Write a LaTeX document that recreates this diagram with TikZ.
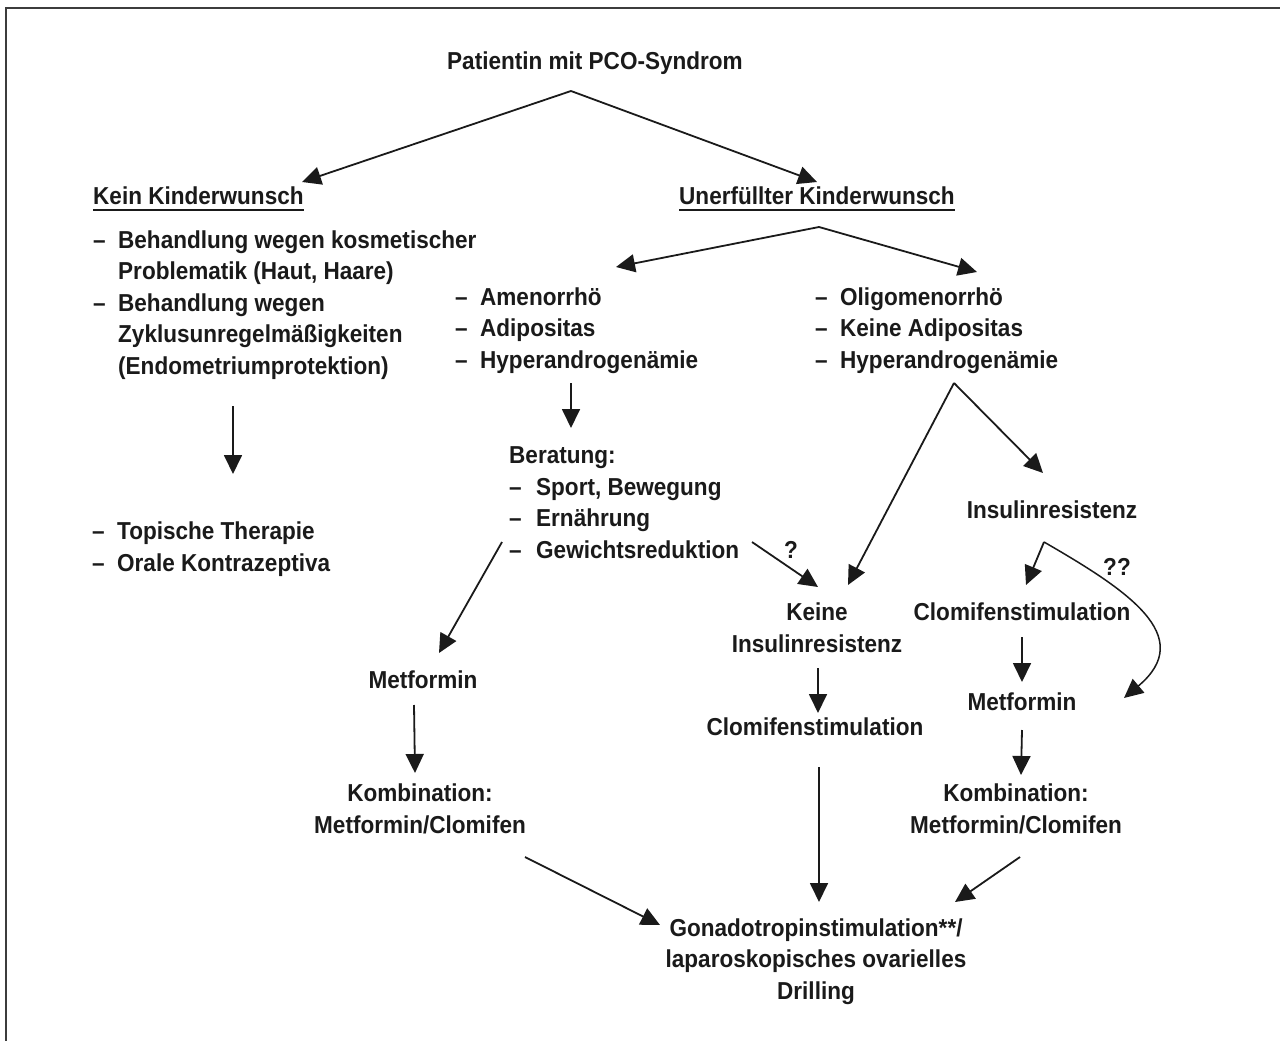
\documentclass[tikz,border=0pt]{standalone}
\usepackage{fontspec}
\setmainfont{Liberation Sans}[FakeStretch=0.92]
\usepackage{tikz}
\usetikzlibrary{arrows.meta}
\definecolor{dunkel}{HTML}{1A1A1A}
\newcommand{\strich}{\makebox[25pt][l]{–}}
\newcommand{\einzug}{\hspace*{25pt}}
\newcommand{\unterstr}[1]{\setbox0=\hbox{#1}\rlap{\vrule height -4.5pt depth 6.5pt width \wd0}\box0}
\tikzset{
  schrift/.style = {font=\fontsize{24.5}{31.5}\selectfont\bfseries, text=dunkel, inner sep=0pt},
  liste/.style   = {schrift, align=left, anchor=base west},
  mitte/.style   = {schrift, align=center, anchor=base},
  pfeil/.style   = {-{Triangle[length=19pt, width=18pt]}, line width=1.8pt, draw=dunkel},
  bogen/.style   = {pfeil, line width=1.5pt},
  rahmen/.style  = {line width=1.5pt, draw=dunkel!85}
}

\begin{document}
\begin{tikzpicture}[x=1pt, y=1pt]
        \useasboundingbox (0,0) rectangle (1280,-1041);
        \draw[rahmen] (6,-1041) -- (6,-8) -- (1280,-8);

        \node[liste] (patientin) at (447,-70) {Patientin mit PCO-Syndrom};
        \node[liste] (keinwunsch) at (93,-204) {\unterstr{Kein Kinderwunsch}};
        \node[liste] (unerfuellt) at (679,-204) {\unterstr{Unerfüllter Kinderwunsch}};

        \node[liste] (behandlung) at (93,-374)
            {\strich Behandlung wegen kosmetischer\\ \einzug Problematik (Haut, Haare)\\
             \strich Behandlung wegen\\ \einzug Zyklusunregelmäßigkeiten\\
             \einzug (Endometriumprotektion)};
        \node[liste] (therapie) at (92,-571)
            {\strich Topische Therapie\\ \strich Orale Kontrazeptiva};

        \node[liste] (amenorrhoe) at (455,-368)
            {\strich Amenorrhö\\ \strich Adipositas\\ \strich Hyperandrogenämie};
        \node[liste] (oligo) at (815,-368)
            {\strich Oligomenorrhö\\ \strich Keine Adipositas\\ \strich Hyperandrogenämie};

        \node[liste] (beratung) at (509,-558)
            {Beratung:\\ \makebox[27pt][l]{–}Sport, Bewegung\\ \makebox[27pt][l]{–}Ernährung\\
             \makebox[27pt][l]{–}Gewichtsreduktion};

        \node[mitte] (metformin1) at (423,-688) {Metformin};
        \node[mitte] (kombi1) at (420,-833) {Kombination:\\ Metformin/Clomifen};

        \node[mitte] (keineir) at (817,-652) {Keine\\ Insulinresistenz};
        \node[mitte] (clomifen1) at (815,-735) {Clomifenstimulation};

        \node[mitte] (insulin) at (1052,-518) {Insulinresistenz};
        \node[mitte] (clomifen2) at (1022,-620) {Clomifenstimulation};
        \node[mitte] (metformin2) at (1022,-710) {Metformin};
        \node[mitte] (kombi2) at (1016,-833) {Kombination:\\ Metformin/Clomifen};

        \node[mitte] (gonado) at (816,-999)
            {Gonadotropinstimulation**/\\ laparoskopisches ovarielles\\ Drilling};

        \node[mitte] (frage1) at (791,-558) {?};
        \node[mitte] (frage2) at (1117,-575) {??};

        \coordinate (gabel1) at ([shift={(124,-21)}]patientin.base west);
        \coordinate (gabel2) at ([shift={(140,-23)}]unerfuellt.base west);
        \coordinate (gabel3) at ([shift={(139,-15)}]oligo.base west);
        \coordinate (gabel4) at ([shift={(-8,-24)}]insulin.base);

        \draw[pfeil] (gabel1) -- ([shift={(209,22)}]keinwunsch.base west);
        \draw[pfeil] (gabel1) -- ([shift={(138,22)}]unerfuellt.base west);
        \draw[pfeil] (gabel2) -- ([shift={(161,101)}]amenorrhoe.base west);
        \draw[pfeil] (gabel2) -- ([shift={(162,96)}]oligo.base west);

        \draw[pfeil] ([shift={(140,-32)}]behandlung.base west) -- ([shift={(141,97)}]therapie.base west);
        \draw[pfeil] ([shift={(116,-15)}]amenorrhoe.base west) -- ([shift={(62,130)}]beratung.base west);

        \draw[pfeil] (gabel3) -- ([shift={(31,67)}]keineir.base);
        \draw[pfeil] (gabel3) -- ([shift={(-9,45)}]insulin.base);

        \draw[pfeil] ([shift={(-7,16)}]beratung.base west) -- ([shift={(16,35)}]metformin1.base);
        \draw[pfeil] ([shift={(243,16)}]beratung.base west) -- ([shift={(1,65)}]keineir.base);

        \draw[pfeil] ([shift={(1,-16)}]keineir.base) -- ([shift={(3,22)}]clomifen1.base);
        \draw[pfeil] (gabel4) -- ([shift={(4,35)}]clomifen2.base);
        \draw[bogen] (gabel4) to[out=-30, in=40, looseness=1.4] ([shift={(102,12)}]metformin2.base);
        \draw[pfeil] ([shift={(0,-17)}]clomifen2.base) -- ([shift={(0,28)}]metformin2.base);
        \draw[pfeil] ([shift={(0,-20)}]metformin2.base) -- ([shift={(5,58)}]kombi2.base);
        \draw[pfeil] ([shift={(-9,-17)}]metformin1.base) -- ([shift={(-5,60)}]kombi1.base);

        \draw[pfeil] ([shift={(4,-32)}]clomifen1.base) -- ([shift={(3,97)}]gonado.base);
        \draw[pfeil] ([shift={(105,-24)}]kombi1.base) -- ([shift={(-156,74)}]gonado.base);
        \draw[pfeil] ([shift={(4,-24)}]kombi2.base) -- ([shift={(139,97)}]gonado.base);
\end{tikzpicture}
\end{document}
